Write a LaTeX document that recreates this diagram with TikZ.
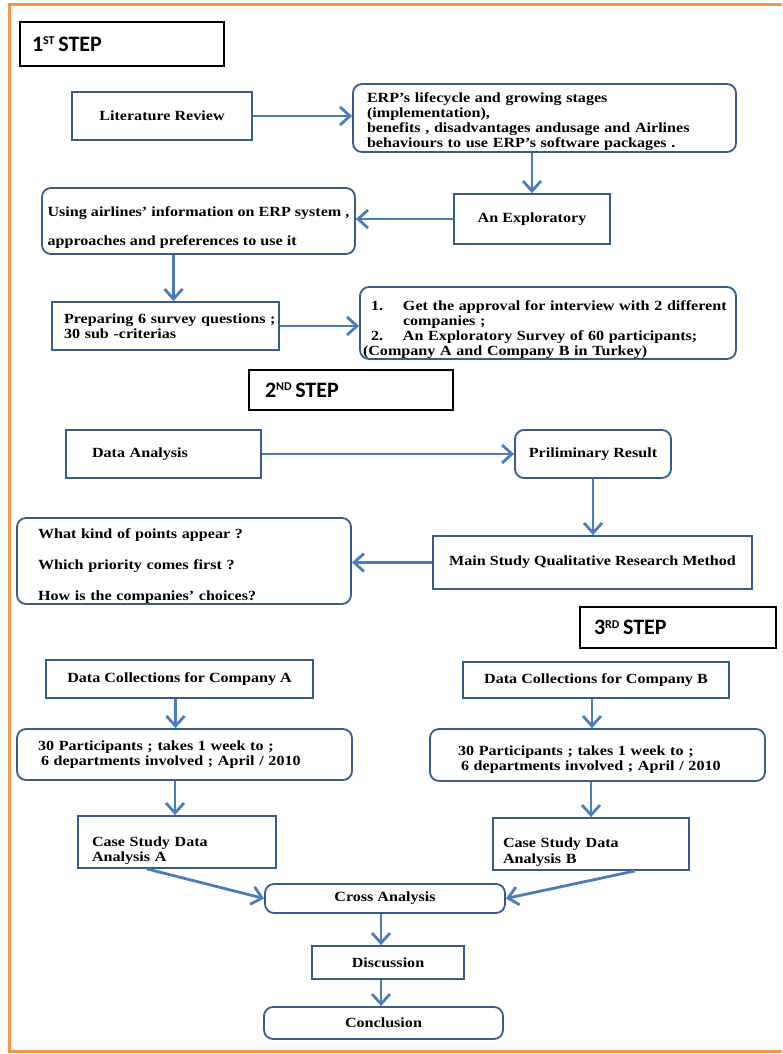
\documentclass[tikz,border=0pt]{standalone}
\usepackage{fontspec}
\setmainfont{Liberation Serif}[FakeStretch=1.15]
\newfontfamily\stepfont{Carlito}
\usetikzlibrary{arrows.meta,calc}
\definecolor{framec}{RGB}{247,150,70}
\definecolor{linec}{RGB}{56,93,138}
\definecolor{arrc}{RGB}{74,126,187}
\newcommand{\stepsup}[1]{\raisebox{6.5pt}{\fontsize{12}{12}\selectfont #1}}
\newcommand{\lift}[1]{\rule{0pt}{#1}}
\tikzset{every picture/.style={x=1pt,y=-1pt}}
\tikzset{box/.style={draw=linec,line width=1.8pt,inner sep=0pt,align=center,font=\bfseries\fontsize{14}{15}\selectfont}}
\tikzset{rbox/.style={box,rounded corners=9pt}}
\tikzset{stepbox/.style={draw=black,line width=1.8pt,inner ysep=0pt,align=left,font=\stepfont\bfseries\fontsize{22}{24}\selectfont}}
\tikzset{arr/.style={draw=arrc,line width=2.8pt,-{Straight Barb[length=10pt,width=18pt]}}}

\begin{document}
\begin{tikzpicture}
  \useasboundingbox (0,0) rectangle (782,1054);
  \draw[framec,line width=3pt] (782,5) -- (9,5) -- (9,1051) -- (782,1051);

  \node[stepbox,text width=180,inner xsep=12,minimum height=44] (step1) at (122,44) {1\stepsup{ST}\,STEP};
  \node[box,minimum width=180,minimum height=48] (lit) at (162,116) {Literature Review};
  \node[rbox,align=left,text width=355,inner xsep=14,minimum height=68] (erp) at (544.5,118)
    {\lift{18pt}ERP’s lifecycle and growing stages\\(implementation),\\benefits , disadvantages andusage  and Airlines\\behaviours  to use ERP’s software packages .};
  \node[box,minimum width=156,minimum height=50] (expl) at (532,219) {An Exploratory};
  \node[rbox,align=left,minimum width=313,minimum height=66] (using) at (198.5,221)
    {\lift{22pt}Using airlines’ information on ERP  system ,\\[14pt]approaches and preferences to use it};
  \node[box,align=left,text width=221,inner xsep=3,minimum height=48] (prep) at (165.5,326)
    {\hspace*{9pt}\mbox{Preparing 6 survey questions ;}\\\hspace*{9pt}30 sub -criterias};
  \node[rbox,align=left,text width=370,inner xsep=3,minimum height=70] (appr) at (548,323)
    {\lift{24pt}\hspace*{8pt}\makebox[32pt][l]{1.}Get the approval for interview with  2 different\\
     \hspace*{40pt}companies ;\\
     \hspace*{8pt}\makebox[32pt][l]{2.}An Exploratory Survey of 60 participants;\\
     (Company A and Company B in Turkey)};

  \node[stepbox,text width=172,inner xsep=16,minimum height=40] (step2) at (351,390) {2\stepsup{ND}\,STEP};
  \node[box,align=left,text width=143,inner xsep=26,minimum height=48] (dana) at (163.5,454) {Data Analysis};
  \node[rbox,minimum width=156,minimum height=48] (prel) at (593,454) {Priliminary  Result};
  \node[rbox,align=left,text width=292,inner xsep=21,minimum height=86] (what) at (184,561)
    {\lift{20pt}What kind of points appear ?\\[16pt]Which priority comes first ?\\[16pt]How is the companies’ choices?};
  \node[box,minimum width=319,minimum height=53] (main) at (592.5,562.5) {Main Study Qualitative Research Method};

  \node[stepbox,text width=168,inner xsep=14,minimum height=41] (step3) at (678,627.5) {3\stepsup{RD}\,STEP};
  \node[box,minimum width=267,minimum height=38] (dca) at (179.5,679) {Data Collections for Company A};
  \node[box,minimum width=266,minimum height=36] (dcb) at (596,680) {Data Collections for Company B};
  \node[rbox,align=left,text width=293,inner xsep=21,minimum height=51] (parta) at (184.5,754.5)
    {30 Participants ; takes 1 week to ;\\\hspace*{3pt}6 departments involved ; April / 2010};
  \node[rbox,align=left,text width=279,inner xsep=28,minimum height=52] (partb) at (597.5,755)
    {\lift{18pt}30 Participants ; takes 1 week to ;\\\hspace*{3pt}6 departments involved ; April / 2010};
  \node[box,align=left,text width=170,inner xsep=14,minimum height=52] (casea) at (177,842)
    {\lift{26pt}Case Study  Data\\Analysis A};
  \node[box,align=left,text width=176,inner xsep=10,minimum height=52] (caseb) at (591,844)
    {\lift{26pt}Case Study  Data\\Analysis B};
  \node[rbox,minimum width=240,minimum height=29] (cross) at (385,898.5) {Cross Analysis};
  \node[box,minimum width=152,minimum height=33] (disc) at (388,962.5) {Discussion};
  \node[rbox,minimum width=239,minimum height=32] (conc) at (383.5,1023) {Conclusion};

  \draw[arr] (lit.east) -- (lit.east -| erp.west);
  \draw[arr] (erp.south -| expl.north) -- (expl.north);
  \draw[arr] (expl.west) -- (expl.west -| using.east);
  \draw[arr] ([xshift=8pt]prep.north |- using.south) -- ([xshift=8pt]prep.north);
  \draw[arr] (prep.east) -- (prep.east -| appr.west);
  \draw[arr] (dana.east) -- (dana.east -| prel.west);
  \draw[arr] (prel.south) -- (prel.south |- main.north);
  \draw[arr] (main.west) -- (main.west -| what.east);
  \draw[arr] ([xshift=-4pt]dca.south) -- ([xshift=-4pt]dca.south |- parta.north);
  \draw[arr] ([xshift=-4pt]dcb.south) -- ([xshift=-4pt]dcb.south |- partb.north);
  \draw[arr] ([xshift=-2pt]casea.north |- parta.south) -- ([xshift=-2pt]casea.north);
  \draw[arr] (caseb.north |- partb.south) -- (caseb.north);
  \draw[arr] ([xshift=-30pt]casea.south) -- (cross.west);
  \draw[arr] ([xshift=44pt]caseb.south) -- (cross.east);
  \draw[arr] ([xshift=-4pt]cross.south) -- ([xshift=-4pt]cross.south |- disc.north);
  \draw[arr] ([xshift=-7pt]disc.south) -- ([xshift=-7pt]disc.south |- conc.north);
\end{tikzpicture}
\end{document}
